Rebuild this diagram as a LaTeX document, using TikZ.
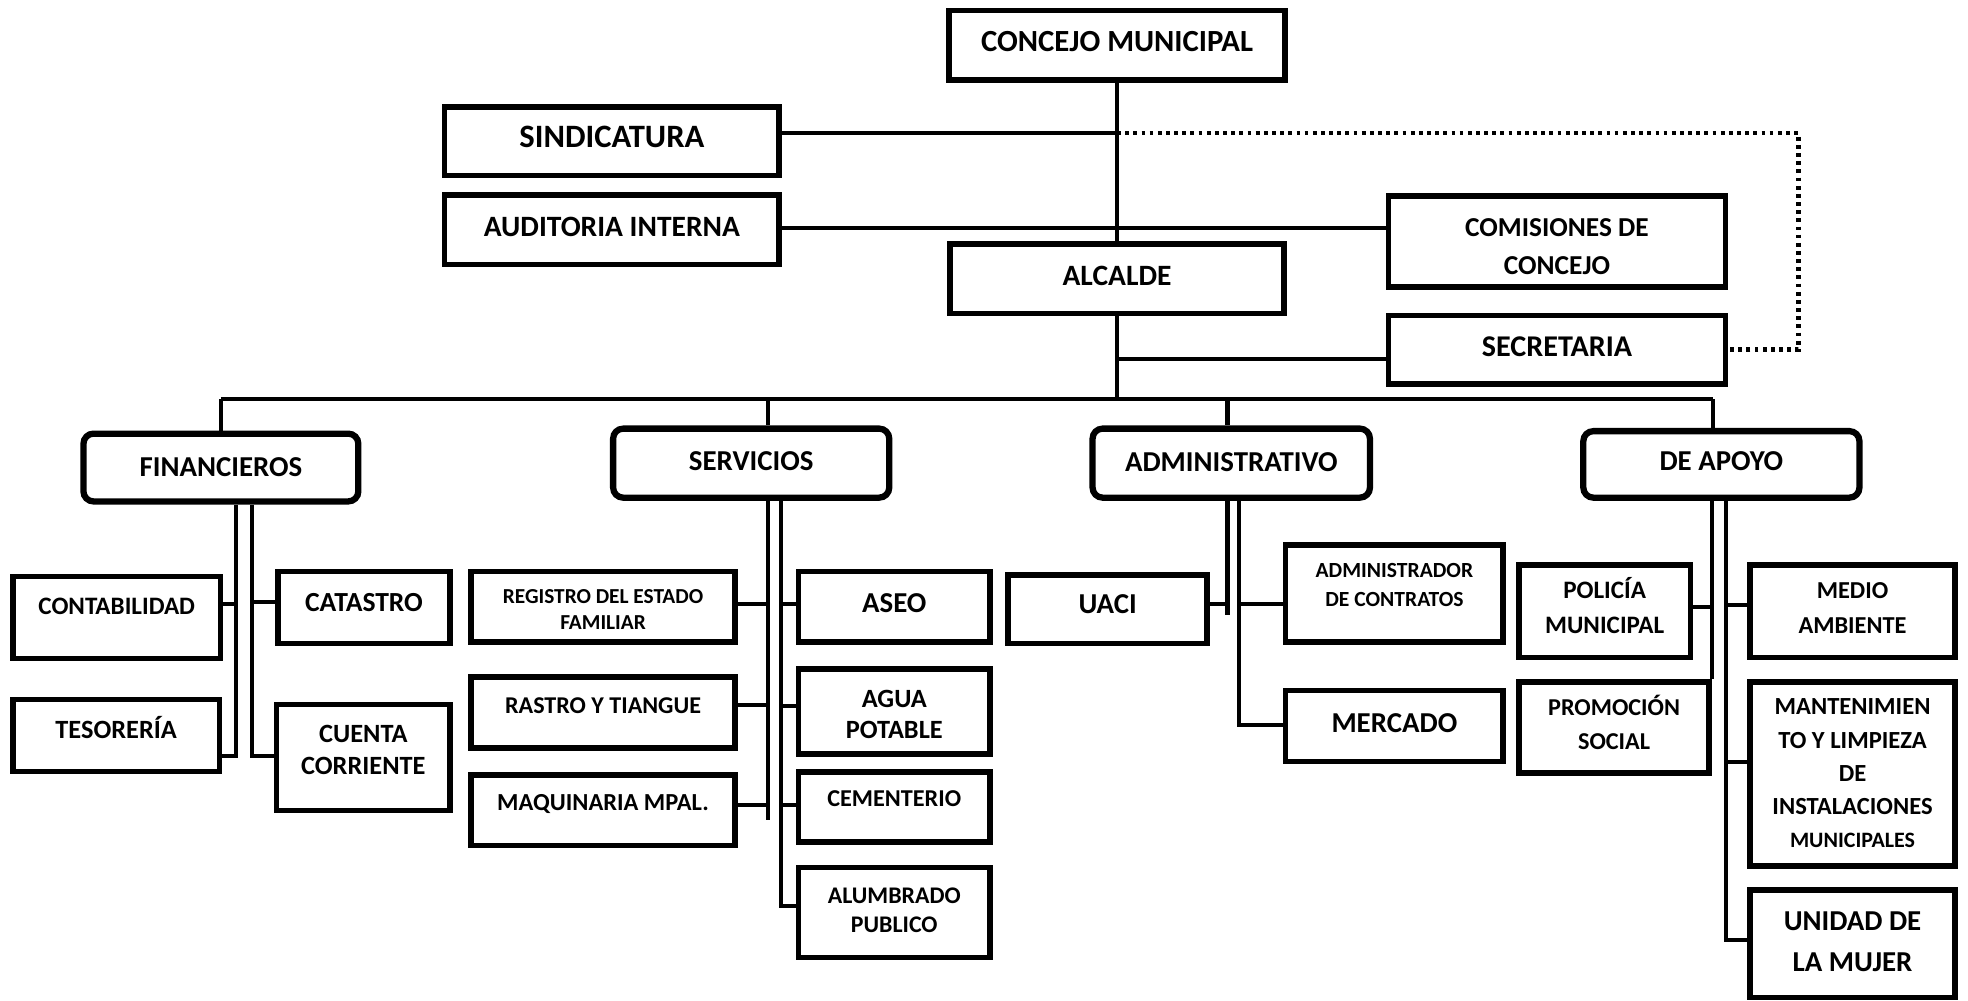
\documentclass[tikz,border=0pt]{standalone}
\usepackage{fontspec}
\setmainfont{Carlito}
\newcommand\fs[2]{\bfseries\fontsize{#1}{#2}\selectfont}
\newcommand\txt[2]{\raisebox{#1}[\height][\depth]{\begin{tabular}{@{}c@{}}#2\end{tabular}}}
\begin{document}
\begin{tikzpicture}[x=1pt,y=-1pt,
  box/.style={draw,line width=4.5pt,inner sep=0pt},
  unit/.style={box,line width=5pt,rounded corners=8pt},
  wire/.style={line width=3.2pt},
  dots/.style={line width=3.4pt,dash pattern=on 3pt off 3.5pt}]
\useasboundingbox (0,0) rectangle (1568,797);
\node [box,minimum width=267.5pt,minimum height=55.5pt,font=\fs{24.5}{29.4}] (concejo) at (890,36) {\txt{1pt}{CONCEJO MUNICIPAL}};
\node [box,minimum width=266.5pt,minimum height=54.5pt,font=\fs{26}{31.2}] (sindic) at (487.5,112.5) {\txt{1pt}{SINDICATURA}};
\node [box,minimum width=266.5pt,minimum height=55.5pt,font=\fs{23.5}{28.2}] (audit) at (487.5,183) {\txt{0pt}{AUDITORIA INTERNA}};
\node [box,minimum width=266.5pt,minimum height=55.5pt,font=\fs{23.5}{28.2}] (alcalde) at (890,222) {\txt{0pt}{ALCALDE}};
\node [box,minimum width=268.5pt,minimum height=72.5pt,font=\fs{21.8}{30.5}] (comis) at (1240.5,192.5) {\txt{-5pt}{COMISIONES DE\\CONCEJO}};
\node [box,minimum width=268.5pt,minimum height=54.5pt,font=\fs{24}{28.8}] (secre) at (1240.5,278.5) {\txt{0pt}{SECRETARIA}};
\node [unit,minimum width=219pt,minimum height=54pt,font=\fs{23}{27.6}] (finan) at (176,372.5) {\txt{-1.5pt}{FINANCIEROS}};
\node [unit,minimum width=220pt,minimum height=55pt,font=\fs{23}{27.6}] (serv) at (598.5,369) {\txt{0pt}{SERVICIOS}};
\node [unit,minimum width=221pt,minimum height=55pt,font=\fs{23}{27.6}] (admin) at (981,369) {\txt{-1pt}{ADMINISTRATIVO}};
\node [unit,minimum width=220pt,minimum height=53pt,font=\fs{23}{27.6}] (apoyo) at (1371.5,370) {\txt{1pt}{DE APOYO}};
\node [box,minimum width=165.5pt,minimum height=65.5pt,font=\fs{20}{24}] (conta) at (93,492) {\txt{7pt}{CONTABILIDAD}};
\node [box,minimum width=164.5pt,minimum height=57.5pt,font=\fs{21}{25.2}] (teso) at (92.5,586) {\txt{2.3pt}{TESORERÍA}};
\node [box,minimum width=137.5pt,minimum height=57.5pt,font=\fs{22}{26.4}] (catas) at (290,484) {\txt{2.3pt}{CATASTRO}};
\node [box,minimum width=138.5pt,minimum height=84.5pt,font=\fs{21}{25}] (cuenta) at (289.5,603.5) {\txt{4.2pt}{CUENTA\\CORRIENTE}};
\node [box,minimum width=210.5pt,minimum height=56.5pt,font=\fs{17}{20.5}] (reg) at (480.5,483.5) {\txt{-3.5pt}{REGISTRO DEL ESTADO\\FAMILIAR}};
\node [box,minimum width=210.5pt,minimum height=56.5pt,font=\fs{19.2}{23}] (rastro) at (480.5,567.5) {\txt{4pt}{RASTRO Y TIANGUE}};
\node [box,minimum width=210.5pt,minimum height=56.5pt,font=\fs{19.5}{23.4}] (maq) at (480.5,645.5) {\txt{4.4pt}{MAQUINARIA MPAL.}};
\node [box,minimum width=152.5pt,minimum height=56.5pt,font=\fs{23}{27.6}] (aseo) at (712.5,483.5) {\txt{1.1pt}{ASEO}};
\node [box,minimum width=152.5pt,minimum height=67.5pt,font=\fs{21}{25}] (agua) at (712.5,567) {\txt{-4.2pt}{AGUA\\POTABLE}};
\node [box,minimum width=152.5pt,minimum height=55.5pt,font=\fs{19.3}{23.2}] (cement) at (712.5,643) {\txt{4.8pt}{CEMENTERIO}};
\node [box,minimum width=152.5pt,minimum height=71.5pt,font=\fs{19}{23}] (alumb) at (712.5,727) {\txt{0pt}{ALUMBRADO\\PUBLICO}};
\node [box,minimum width=158.5pt,minimum height=54.5pt,font=\fs{23}{27.6}] (uaci) at (882.5,485.5) {\txt{2.6pt}{UACI}};
\node [box,minimum width=173.5pt,minimum height=77.5pt,font=\fs{17.2}{23}] (adcon) at (1111,473) {\txt{6pt}{ADMINISTRADOR\\DE CONTRATOS}};
\node [box,minimum width=173.5pt,minimum height=56.5pt,font=\fs{23}{27.6}] (merc) at (1111,578.5) {\txt{0.6pt}{MERCADO}};
\node [box,minimum width=136.5pt,minimum height=73.5pt,font=\fs{20}{27.5}] (pol) at (1278.5,487) {\txt{1.7pt}{POLICÍA\\MUNICIPAL}};
\node [box,minimum width=151.5pt,minimum height=72.5pt,font=\fs{19.3}{27}] (promo) at (1286,579.5) {\txt{1.3pt}{PROMOCIÓN\\SOCIAL}};
\node [box,minimum width=163.5pt,minimum height=73.5pt,font=\fs{19.4}{27.5}] (medio) at (1476,487) {\txt{1.7pt}{MEDIO\\AMBIENTE}};
\node [box,minimum width=163.5pt,minimum height=146.5pt,font=\fs{19.6}{26.5}] (mant) at (1476,616.5) {\txt{-0.8pt}{MANTENIMIEN\\TO Y LIMPIEZA\\DE\\INSTALACIONES\\{\fontsize{17.5}{26.5}\selectfont MUNICIPALES}}};
\node [box,minimum width=163.5pt,minimum height=85.5pt,font=\fs{23}{32.5}] (mujer) at (1476,752) {\txt{1.1pt}{UNIDAD DE\\LA MUJER}};
\coordinate (j1) at (890,106);
\coordinate (j2) at (1433,106);
\coordinate (j3) at (890,286);
\coordinate (dF) at (176,318);
\coordinate (dS) at (612,318);
\coordinate (dA) at (978,318);
\coordinate (dP) at (1365,318);
\draw [wire] (concejo.south) -- (alcalde.north);
\draw [wire] (sindic.east |- j1) -- (j1);
\draw [dots] (j1) -- (j2) |- (secre.east);
\draw [wire] (audit.east |- 0,182) -- (comis.west |- 0,182);
\draw [wire] (alcalde.south) -- (alcalde.south |- dF);
\draw [wire] (j3) -- (secre.west |- j3);
\draw [wire] (dF) -- (dP);
\draw [wire] (dF) -- (finan.north);
\draw [wire] (dS) -- (dS |- serv.north);
\draw [wire] (dA) -- (dA |- admin.north);
\draw [wire] (dP) -- (dP |- apoyo.north);
\coordinate (fL) at (188,602);
\coordinate (fR) at (200.5,602);
\draw [wire] (finan.south -| fL) -- (fL) -- (teso.east |- fL);
\draw [wire] (finan.south -| fR) -- (fR) -- (cuenta.west |- fR);
\draw [wire] (conta.east |- 0,481) -- (fL |- 0,481);
\draw [wire] (fR |- 0,480) -- (catas.west |- 0,480);
\coordinate (sL) at (612,653);
\coordinate (sR) at (622,722);
\draw [wire] (serv.south -| sL) -- (sL);
\draw [wire] (serv.south -| sR) -- (sR) -- (alumb.west |- sR);
\draw [wire] (reg.east |- 0,481.5) -- (sL |- 0,481.5);
\draw [wire] (rastro.east |- 0,562) -- (sL |- 0,562);
\draw [wire] (maq.east |- 0,641) -- (sL |- 0,641);
\draw [wire] (sR |- 0,481.5) -- (aseo.west |- 0,481.5);
\draw [wire] (sR |- 0,562.5) -- (agua.west |- 0,562.5);
\draw [wire] (sR |- 0,641) -- (cement.west |- 0,641);
\coordinate (aL) at (978,490);
\coordinate (aR) at (987,578);
\draw [wire] (admin.south -| aL) -- (aL);
\draw [wire] (admin.south -| aR) -- (aR) -- (merc.west |- aR);
\draw [wire] (uaci.east |- 0,481) -- (aL |- 0,481);
\draw [wire] (aR |- 0,481) -- (adcon.west |- 0,481);
\coordinate (pL) at (1364,541);
\coordinate (pR) at (1375.5,749);
\draw [wire] (apoyo.south -| pL) -- (pL);
\draw [wire] (apoyo.south -| pR) -- (pR) -- (mujer.west |- pR);
\draw [wire] (pol.east |- 0,483.5) -- (pL |- 0,483.5);
\draw [wire] (pR |- 0,482) -- (medio.west |- 0,482);
\draw [wire] (pR |- 0,607) -- (mant.west |- 0,607);
\end{tikzpicture}
\end{document}
